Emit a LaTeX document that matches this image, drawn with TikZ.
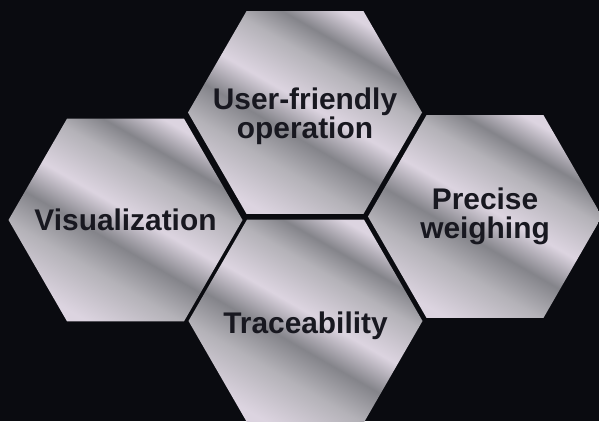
\documentclass[tikz,border=0pt]{standalone}
\usepackage{fontspec}
\setmainfont{Liberation Sans}

\definecolor{backdrop}{RGB}{10,11,16}
\definecolor{silverlight}{RGB}{220,212,224}
\definecolor{silvermid}{RGB}{180,178,184}
\definecolor{silverdark}{RGB}{132,132,138}
\definecolor{inkdark}{RGB}{24,24,32}

\pgfdeclarehorizontalshading{silver}{100bp}{%
  color(0bp)=(silverlight); color(25bp)=(silverlight);
  color(36bp)=(silvermid); color(44bp)=(silverdark);
  color(52bp)=(silverlight); color(62bp)=(silvermid);
  color(68bp)=(silverdark); color(75bp)=(silverlight);
  color(100bp)=(silverlight)}

\begin{document}
\begin{tikzpicture}[thick]

    \tikzset{hexa/.style={%
      shade,%
      shading=silver,%
      shading angle=60}%
    };
    \tikzset{hexlabel/.style={%
      text=inkdark,%
      inner sep=0pt,%
      font=\bfseries\fontsize{17}{13.6}\selectfont}%
    };

    %%%%%%%%%%%%
    % backdrop %
    %%%%%%%%%%%%
    \path[use as bounding box, fill=backdrop] (0, 0) rectangle (11.98, 8.42);

    %%%%%%%%%%%%
    % hexagons %
    %%%%%%%%%%%%
    \coordinate (usop) at (6.10, 6.17);
    \coordinate (visu) at (2.51, 4.02);
    \coordinate (prec) at (9.70, 4.09);
    \coordinate (trac) at (6.11, 2.00);

    \path[hexa] (usop) ++(0:2.34) -- ++(120:2.34) -- ++(180:2.34)
      -- ++(240:2.34) -- ++(300:2.34) -- ++(0:2.34) -- cycle;
    \path[hexa] (visu) ++(0:2.34) -- ++(120:2.34) -- ++(180:2.34)
      -- ++(240:2.34) -- ++(300:2.34) -- ++(0:2.34) -- cycle;
    \path[hexa] (prec) ++(0:2.34) -- ++(120:2.34) -- ++(180:2.34)
      -- ++(240:2.34) -- ++(300:2.34) -- ++(0:2.34) -- cycle;
    \path[hexa] (trac) ++(0:2.34) -- ++(120:2.34) -- ++(180:2.34)
      -- ++(240:2.34) -- ++(300:2.34) -- ++(0:2.34) -- cycle;

    %%%%%%%%%%
    % labels %
    %%%%%%%%%%
    \node [hexlabel] (usoptext) at ([yshift=-0.08cm] usop) {
      \begin{tabular}{c}
        User-friendly \\ operation
      \end{tabular}
    };

    \node [hexlabel] (visutext) at (visu) {Visualization};

    \node [hexlabel] (prectext) at (prec) {
      \begin{tabular}{c}
        Precise \\ weighing
      \end{tabular}
    };

    \node [hexlabel] (tractext) at ([yshift=-0.1cm] trac) {Traceability};

  \end{tikzpicture}
\end{document}
